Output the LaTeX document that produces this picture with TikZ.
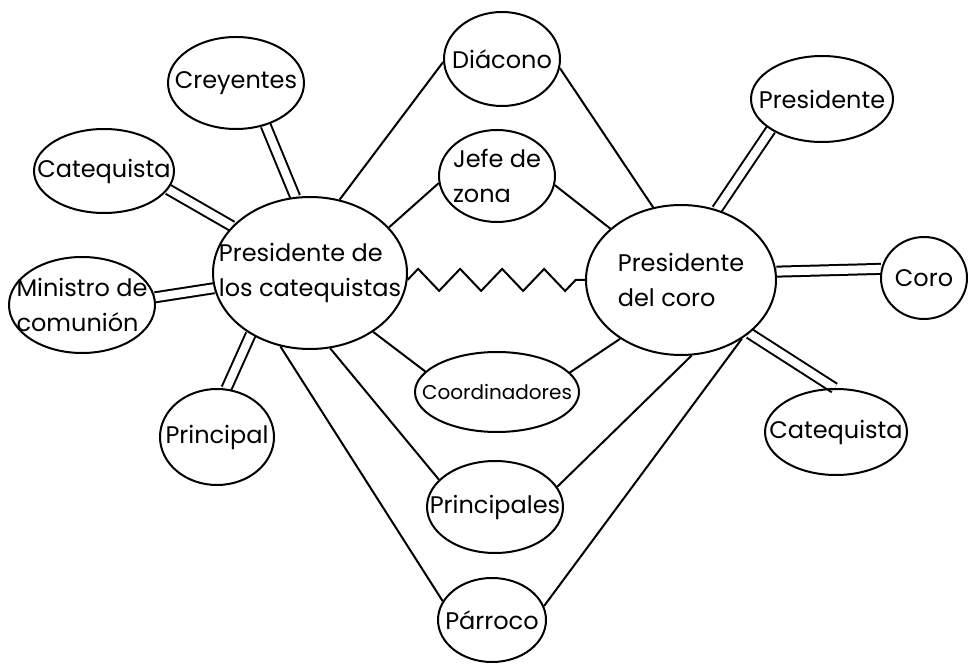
\documentclass[tikz,border=0pt]{standalone}
\usepackage{fontspec}
\setmainfont{Poppins}
\usetikzlibrary{shapes.geometric,decorations.pathmorphing,backgrounds}

\tikzset{
  bubble/.style={draw,ellipse,line width=1pt,inner sep=0pt},
  every label/.style={align=left,inner sep=0pt,font=\fontsize{12}{17.5}\selectfont},
  link/.style={line width=1pt},
  dlink/.style={line width=1pt,double,double distance=4pt},
  zlink/.style={line width=1pt,decorate,decoration={zigzag,segment length=21pt,amplitude=5.5pt}}
}

\begin{document}
\begin{tikzpicture}[x=0.5pt,y=-0.5pt]
\useasboundingbox (0,0) rectangle (968,667);

\node[bubble,minimum width=97pt,minimum height=76pt,label={center:Presidente de\\los catequistas}] (pcat) at (310,273) {};
\node[bubble,minimum width=95pt,minimum height=75pt,label={center:Presidente\\del coro}] (pcor) at (681,280) {};

\node[bubble,minimum width=68pt,minimum height=46pt,label={center:Creyentes}] (cre) at (236,83) {};
\node[bubble,minimum width=70pt,minimum height=42pt,label={center:Catequista}] (catl) at (104,171) {};
\node[bubble,minimum width=73pt,minimum height=48pt,label={center:Ministro de\\comunión}] (mini) at (82,305) {};
\node[bubble,minimum width=57pt,minimum height=48pt,label={center:Principal}] (prl) at (217,437) {};

\node[bubble,minimum width=58pt,minimum height=47pt,label={center:Diácono}] (dia) at (502,59) {};
\node[bubble,minimum width=58pt,minimum height=46pt,label={center:Jefe de\\zona}] (jef) at (497,176) {};
\node[bubble,minimum width=82pt,minimum height=40pt,label={[font=\fontsize{10}{12}\selectfont]center:Coordinadores}] (coo) at (497,392) {};
\node[bubble,minimum width=68pt,minimum height=46pt,label={center:Principales}] (prs) at (495,507) {};
\node[bubble,minimum width=54pt,minimum height=42pt,label={center:Párroco}] (par) at (492,620) {};

\node[bubble,minimum width=71pt,minimum height=43pt,label={center:Presidente}] (pre) at (822,99) {};
\node[bubble,minimum width=43pt,minimum height=41pt,label={center:Coro}] (cor) at (924,278) {};
\node[bubble,minimum width=71pt,minimum height=43pt,label={center:Catequista}] (catr) at (836,432) {};

\begin{scope}[on background layer]
\draw[dlink] (cre.-55) -- (pcat.101);
\draw[dlink] (catl.-16) -- (pcat.149);
\draw[dlink] (mini.6) -- (pcat.189);
\draw[dlink] (prl.79) -- (pcat.226);
\draw[dlink] (pre.211) -- (pcor.63);
\draw[dlink] (cor.168) -- (pcor.5);
\draw[dlink] (catr.92) -- (pcor.-38);

\draw[link] (dia.183) -- (pcat.68);
\draw[link] (dia.-9) -- (pcor.111);
\draw[link] (jef.187) -- (pcat.30);
\draw[link] (jef.-9) -- (pcor.144);
\draw[link] (coo.164) -- (pcat.-43);
\draw[link] (coo.15) -- (pcor.-136);
\draw[link] (prs.154) -- (pcat.-75);
\draw[link] (prs.18) -- (pcor.-82);
\draw[link] (par.159) -- (pcat.-112);
\draw[link] (par.15) -- (pcor.-44);
\draw[zlink] (pcat.-4) -- (pcor.180);
\end{scope}
\end{tikzpicture}
\end{document}
